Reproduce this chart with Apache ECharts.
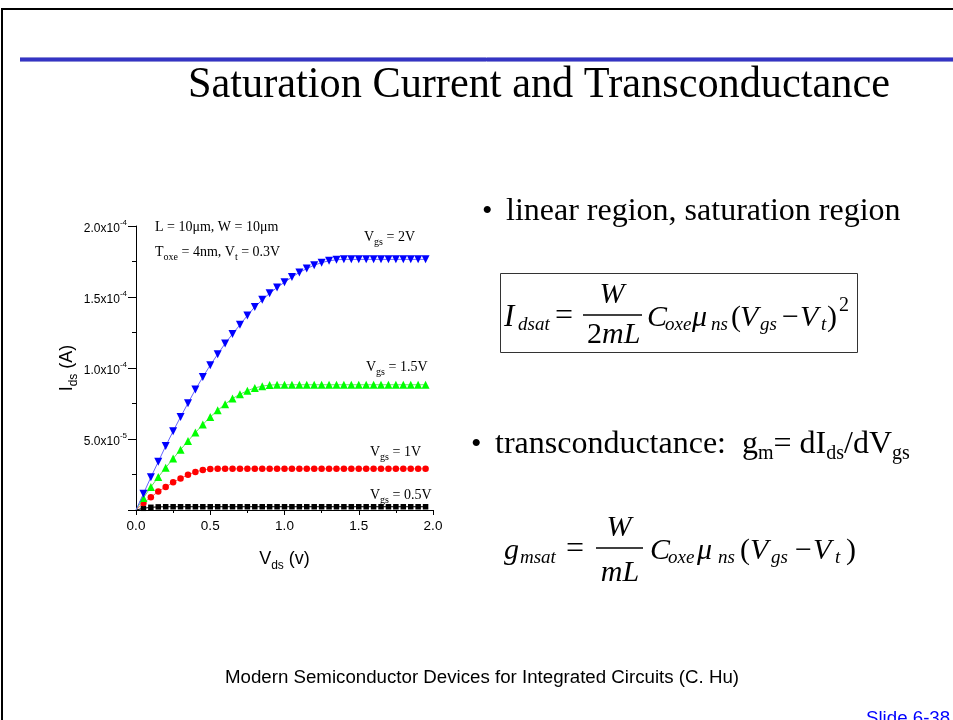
<!DOCTYPE html>
<html><head><meta charset="utf-8">
<script src="https://cdn.jsdelivr.net/npm/echarts@6/dist/echarts.min.js"></script>
<style>html,body{margin:0;padding:0;background:#fff}#c{width:953px;height:720px}</style>
</head><body><div id="c"></div>
<script>
// ---- data ----
const vds = [0, 0.05, 0.10, 0.15, 0.20, 0.25, 0.30, 0.35, 0.40, 0.45, 0.50, 0.55, 0.60, 0.65, 0.70, 0.75, 0.80, 0.85, 0.90, 0.95,
  1.00, 1.05, 1.10, 1.15, 1.20, 1.25, 1.30, 1.35, 1.40, 1.45, 1.50, 1.55, 1.60, 1.65, 1.70, 1.75, 1.80, 1.85, 1.90, 1.95];
const idsVgs2 = [0, 1.15e-5, 2.3e-5, 3.4e-5, 4.5e-5, 5.55e-5, 6.55e-5, 7.52e-5, 8.48e-5, 9.36e-5, 1.02e-4, 1.097e-4, 1.172e-4, 1.24e-4, 1.304e-4, 1.37e-4, 1.43e-4, 1.48e-4, 1.526e-4, 1.567e-4,
  1.604e-4, 1.64e-4, 1.673e-4, 1.7e-4, 1.724e-4, 1.742e-4, 1.755e-4, 1.762e-4, 1.765e-4, 1.765e-4, 1.765e-4, 1.765e-4, 1.765e-4, 1.765e-4, 1.765e-4, 1.765e-4, 1.765e-4, 1.765e-4, 1.765e-4, 1.765e-4];
const idsVgs15 = [0, 8.5e-6, 1.62e-5, 2.32e-5, 2.98e-5, 3.62e-5, 4.25e-5, 4.86e-5, 5.45e-5, 6.02e-5, 6.55e-5, 7.02e-5, 7.45e-5, 7.85e-5, 8.15e-5, 8.4e-5, 8.6e-5, 8.72e-5, 8.8e-5, 8.82e-5,
  8.82e-5, 8.82e-5, 8.82e-5, 8.82e-5, 8.82e-5, 8.82e-5, 8.82e-5, 8.82e-5, 8.82e-5, 8.82e-5, 8.82e-5, 8.82e-5, 8.82e-5, 8.82e-5, 8.82e-5, 8.82e-5, 8.82e-5, 8.82e-5, 8.82e-5, 8.82e-5];
const idsVgs1 = [0, 5e-6, 9e-6, 1.3e-5, 1.62e-5, 1.95e-5, 2.22e-5, 2.48e-5, 2.68e-5, 2.82e-5, 2.88e-5, 2.9e-5, 2.9e-5, 2.9e-5, 2.9e-5, 2.9e-5, 2.9e-5, 2.9e-5, 2.9e-5, 2.9e-5,
  2.9e-5, 2.9e-5, 2.9e-5, 2.9e-5, 2.9e-5, 2.9e-5, 2.9e-5, 2.9e-5, 2.9e-5, 2.9e-5, 2.9e-5, 2.9e-5, 2.9e-5, 2.9e-5, 2.9e-5, 2.9e-5, 2.9e-5, 2.9e-5, 2.9e-5, 2.9e-5];
const idsVgs05 = [0, 1.2e-6, 1.9e-6, 2.2e-6, 2.3e-6, 2.3e-6, 2.3e-6, 2.3e-6, 2.3e-6, 2.3e-6, 2.3e-6, 2.3e-6, 2.3e-6, 2.3e-6, 2.3e-6, 2.3e-6, 2.3e-6, 2.3e-6, 2.3e-6, 2.3e-6,
  2.3e-6, 2.3e-6, 2.3e-6, 2.3e-6, 2.3e-6, 2.3e-6, 2.3e-6, 2.3e-6, 2.3e-6, 2.3e-6, 2.3e-6, 2.3e-6, 2.3e-6, 2.3e-6, 2.3e-6, 2.3e-6, 2.3e-6, 2.3e-6, 2.3e-6, 2.3e-6];
const xTickLabels = ['0.0', '0.5', '1.0', '1.5', '2.0'];
const yTickMantissa = ['', '5.0', '1.0', '1.5', '2.0'];
const yTickExponent = ['', '-5', '-4', '-4', '-4'];

// ---- helpers ----
const SERIF = 'Liberation Serif', SANS = 'Liberation Sans';
function T(text, x, base, size, o) {
  o = o || {};
  const fam = o.sans ? SANS : SERIF;
  const k = o.sans ? 0.3465 : 0.3375;
  const al = o.align || 'left';
  const el = { type: 'text', x: x, y: base - k * size, silent: true, z: 10,
    style: { text: text, fontSize: size, fontFamily: fam, fontStyle: o.italic ? 'italic' : 'normal',
      fill: o.color || '#000', align: al, textAlign: al, verticalAlign: 'middle', textVerticalAlign: 'middle' } };
  if (o.scaleY) { el.scaleY = o.scaleY; el.originY = k * size; }
  return el;
}
// rich text line: {a|main}{b|subscript}; d = how far the subscript baseline sits below the main one
function R(text, x, base, m, s, d, o) {
  o = o || {};
  const k = 0.3375;
  const L = 2 * (d + k * m - k * s + s / 2);
  const fs = o.italic ? 'italic' : 'normal';
  return { type: 'text', x: x, y: base - k * m, silent: true, z: 10,
    style: { text: text, fill: '#000', align: 'left', textAlign: 'left', verticalAlign: 'middle', textVerticalAlign: 'middle',
      rich: {
        a: { fontSize: m, lineHeight: L, fontFamily: SERIF, fontStyle: fs, fill: '#000', color: '#000' },
        b: { fontSize: s, lineHeight: s, verticalAlign: 'bottom', fontFamily: SERIF, fontStyle: fs, fill: '#000', color: '#000' }
      } } };
}
function HL(x1, x2, y, w, c) {
  return { type: 'line', silent: true, shape: { x1: x1, y1: y, x2: x2, y2: y }, style: { stroke: c || '#000', lineWidth: w || 1 } };
}
function pts(arr) { return vds.map((v, i) => [v, arr[i]]); }
function sz(s) { return (val, p) => p.dataIndex === 0 ? 0 : s; }

const graphics = [
  // slide frame
  { type: 'rect', silent: true, shape: { x: 2, y: 9, width: 960, height: 720 }, style: { fill: 'none', stroke: '#000', lineWidth: 2 } },
  HL(20, 953, 57.5, 1, '#8c8cd8'),
  HL(20, 953, 59.5, 3, '#3434c4'),
  HL(20, 953, 61.5, 1, '#8c8cd8'),
  T('Saturation Current and Transconductance', 539, 100, 42.3, { align: 'center', scaleY: 1.06 }),
  // in-plot annotations
  R('{a|L = 10\u03bcm, W = 10\u03bcm}', 155, 232, 14, 10, 4),
  R('{a|T}{b|oxe}{a| = 4nm, V}{b|t}{a| = 0.3V}', 155, 257, 14, 10, 4),
  R('{a|V}{b|gs}{a| = 2V}', 364, 242, 14, 10, 4),
  R('{a|V}{b|gs}{a| = 1.5V}', 366, 372, 14, 10, 4),
  R('{a|V}{b|gs}{a| = 1V}', 370, 457, 14, 10, 4),
  R('{a|V}{b|gs}{a| = 0.5V}', 370, 500, 14, 10, 4),
  // bullet 1
  T('\u2022', 482, 222, 30), T('linear region, saturation region', 506, 222, 32),
  // formula 1 (boxed)
  { type: 'rect', silent: true, shape: { x: 500.5, y: 273.5, width: 357, height: 79 }, style: { fill: 'none', stroke: '#333', lineWidth: 1 } },
  T('I', 504, 328, 31, { italic: true }), T('dsat', 518, 331, 19, { italic: true }),
  T('=', 564, 327, 32, { align: 'center' }),
  T('W', 612, 305, 30, { italic: true, align: 'center' }),
  HL(583, 642, 315, 1.3),
  T('2', 587, 345, 30), T('mL', 602, 345, 30, { italic: true }),
  T('C', 647, 328, 30, { italic: true }), T('oxe', 665, 331, 19, { italic: true }),
  T('\u03bc', 692, 328, 30, { italic: true }), T('ns', 711, 331, 19, { italic: true }),
  T('(', 731, 328, 30), T('V', 740, 328, 30, { italic: true }), T('gs', 760, 331, 19, { italic: true }),
  T('\u2212', 782, 328, 30), T('V', 800, 328, 30, { italic: true }), T('t', 821, 331, 19, { italic: true }),
  T(')', 827, 328, 30), T('2', 839, 312, 20),
  // bullet 2
  T('\u2022', 471, 455, 30),
  R('{a|transconductance:  g}{b|m}{a|= dI}{b|ds}{a|/dV}{b|gs}', 495, 455, 32, 20, 5),
  // formula 2
  T('g', 504, 561, 30, { italic: true }), T('msat', 520, 564, 19, { italic: true }),
  T('=', 575, 560, 32, { align: 'center' }),
  T('W', 619, 538, 30, { italic: true, align: 'center' }),
  HL(596, 643, 548, 1.3),
  T('mL', 620, 583, 30, { italic: true, align: 'center' }),
  T('C', 650, 561, 30, { italic: true }), T('oxe', 668, 564, 19, { italic: true }),
  T('\u03bc', 697, 561, 30, { italic: true }), T('ns', 718, 564, 19, { italic: true }),
  T('(', 740, 561, 30), T('V', 750, 561, 30, { italic: true }), T('gs', 771, 564, 19, { italic: true }),
  T('\u2212', 795, 561, 30), T('V', 813, 561, 30, { italic: true }), T('t', 835, 564, 19, { italic: true }),
  T(')', 846, 561, 30),
  // footer
  T('Modern Semiconductor Devices for Integrated Circuits (C. Hu)', 482, 684, 18.7, { sans: true, align: 'center' }),
  T('Slide 6-38', 866, 725, 18.7, { sans: true, color: '#0000ff' })
];

const axisFont = { fontFamily: SANS, color: '#000' };
const chart = echarts.init(document.getElementById('c'), null, { renderer: 'canvas' });
chart.setOption({
  animation: false,
  backgroundColor: '#fff',
  grid: { left: 136, right: 520, top: 226, bottom: 210, containLabel: false },
  xAxis: {
    type: 'value', min: 0, max: 2, interval: 0.5,
    axisLine: { show: true, onZero: false, lineStyle: { color: '#000', width: 1 } },
    axisTick: { show: true, length: 5, lineStyle: { color: '#000' } },
    minorTick: { show: true, splitNumber: 2, length: 3, lineStyle: { color: '#000' } },
    splitLine: { show: false },
    axisLabel: { margin: 9, fontSize: 13.5, ...axisFont, formatter: (v, i) => xTickLabels[i] },
    name: '{v|V}{s|ds}{v| (v)}', nameLocation: 'middle', nameGap: 36,
    nameTextStyle: { rich: {
      v: { fontSize: 18, lineHeight: 26, fontFamily: SANS, color: '#000' },
      s: { fontSize: 12, verticalAlign: 'bottom', fontFamily: SANS, color: '#000' } } }
  },
  yAxis: {
    type: 'value', min: 0, max: 2e-4, interval: 5e-5,
    axisLine: { show: true, lineStyle: { color: '#000', width: 1 } },
    axisTick: { show: true, length: 8, lineStyle: { color: '#000' } },
    minorTick: { show: true, splitNumber: 2, length: 4, lineStyle: { color: '#000' } },
    splitLine: { show: false },
    axisLabel: { margin: 9, padding: [5, 0, 0, 0], ...axisFont,
      formatter: (v, i) => i === 0 ? '' : '{m|' + yTickMantissa[i] + 'x10}{e|' + yTickExponent[i] + '}',
      rich: {
        m: { fontSize: 12, lineHeight: 20, fontFamily: SANS, color: '#000' },
        e: { fontSize: 8, verticalAlign: 'top', fontFamily: SANS, color: '#000' } } },
    name: '{v|I}{s|ds}{v| (A)}', nameLocation: 'middle', nameGap: 56, nameRotate: 90,
    nameTextStyle: { rich: {
      v: { fontSize: 18, lineHeight: 26, fontFamily: SANS, color: '#000' },
      s: { fontSize: 12, verticalAlign: 'bottom', fontFamily: SANS, color: '#000' } } }
  },
  series: [
    { name: 'Vgs=0.5V', type: 'line', data: pts(idsVgs05), symbol: 'rect', symbolSize: sz(5.5), showAllSymbol: true,
      itemStyle: { color: '#000' }, lineStyle: { color: '#000', width: 1 }, z: 2 },
    { name: 'Vgs=1V', type: 'line', data: pts(idsVgs1), symbol: 'circle', symbolSize: sz(6.5), showAllSymbol: true,
      itemStyle: { color: '#ff0000' }, lineStyle: { color: '#ff6a6a', width: 1 }, z: 3 },
    { name: 'Vgs=1.5V', type: 'line', data: pts(idsVgs15), symbol: 'triangle', symbolSize: sz(8), showAllSymbol: true,
      itemStyle: { color: '#00ff00' }, lineStyle: { color: '#60e060', width: 1 }, z: 4 },
    { name: 'Vgs=2V', type: 'line', data: pts(idsVgs2), symbol: 'triangle', symbolRotate: 180, symbolSize: sz(8), showAllSymbol: true,
      itemStyle: { color: '#0000ff' }, lineStyle: { color: '#6464ff', width: 1 }, z: 5 }
  ],
  graphic: graphics
});
</script></body></html>
